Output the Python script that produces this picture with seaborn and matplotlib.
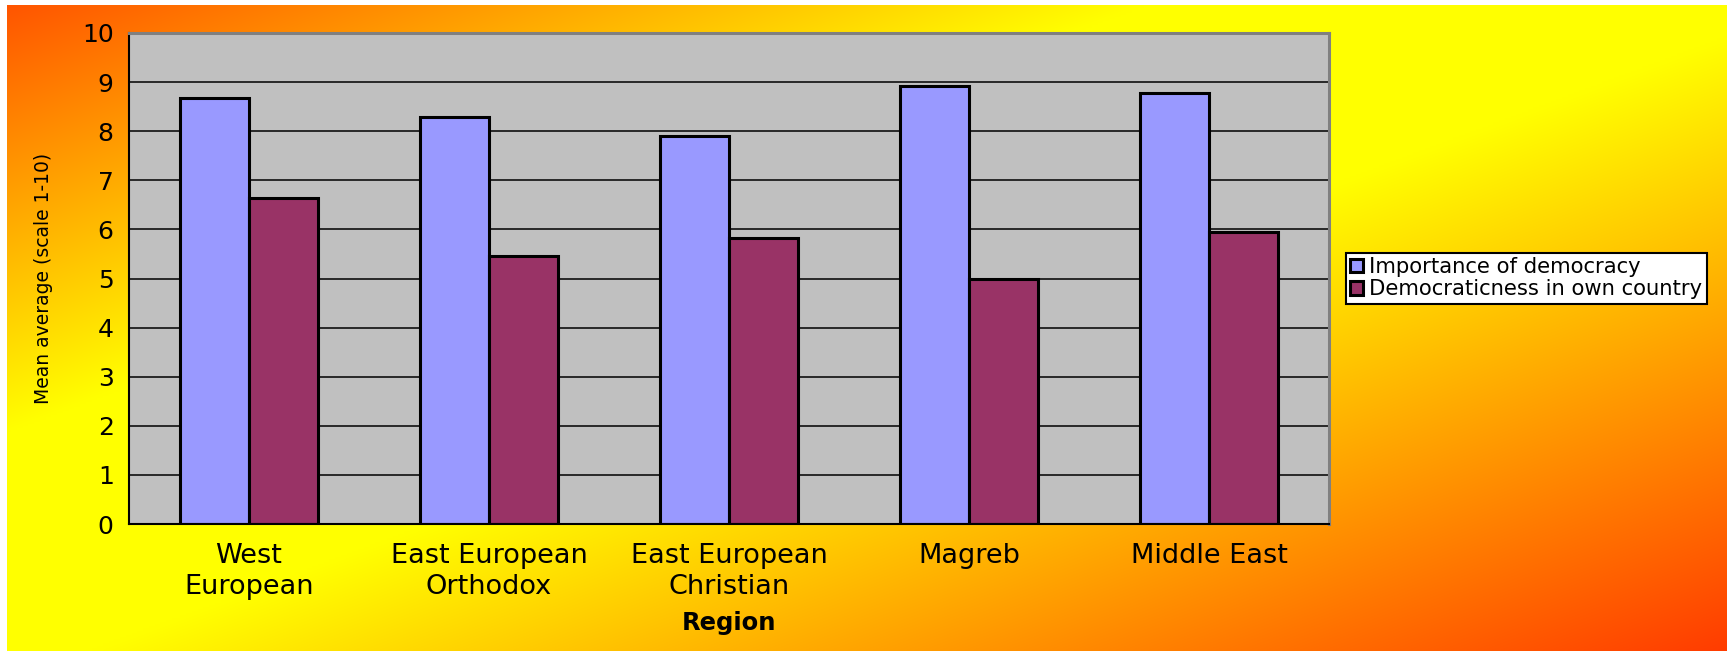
import numpy as np
import pandas as pd
import matplotlib
matplotlib.use("Agg")
import matplotlib.pyplot as plt
import seaborn as sns

# ---- data ----
categories = ["West\nEuropean", "East European\nOrthodox", "East European\nChristian", "Magreb", "Middle East"]
importance = [8.67, 8.28, 7.91, 8.93, 8.77]
democraticness = [6.64, 5.45, 5.83, 4.98, 5.95]
series_names = ["Importance of democracy", "Democraticness in own country"]
yticks = list(range(0, 11))

df = pd.DataFrame({
    "Region": categories * 2,
    "value": importance + democraticness,
    "series": [series_names[0]] * len(categories) + [series_names[1]] * len(categories),
})

sns.set_style("white")
plt.rcParams["font.family"] = ["DejaVu Sans"]
plt.rcParams["text.color"] = "black"
plt.rcParams["axes.labelcolor"] = "black"
plt.rcParams["xtick.color"] = "black"
plt.rcParams["ytick.color"] = "black"

W, H = 1727, 651
fig = plt.figure(figsize=(W / 100, H / 100), dpi=100, facecolor="white")

# gradient background
bg = fig.add_axes([7 / W, 0, 1 - 7 / W, 1 - 5 / H], zorder=-10)
ny, nx = 300, 600
yy, xx = np.mgrid[0:1:ny * 1j, 0:1:nx * 1j]
t = xx + yy
g = np.where(t <= 0.85,
             85 + 170 * np.clip(t / 0.66, 0, 1),
             255 - 195 * np.clip((t - 1.05) / 0.95, 0, 1))
img = np.stack([np.ones_like(t), g / 255, np.zeros_like(t)], -1)
bg.imshow(img, aspect="auto", extent=[0, 1, 0, 1], interpolation="bilinear", origin="upper")
bg.axis("off")

ax = fig.add_axes([129 / W, 1 - 524 / H, 1200 / W, 491 / H])
ax.set_facecolor("#C0C0C0")
ax.set_axisbelow(True)
sns.barplot(data=df, x="Region", y="value", hue="series",
            palette=["#9999FF", "#993366"], width=0.573, gap=0,
            edgecolor="black", linewidth=2.2, saturation=1, ax=ax)

ax.set_ylim(0, 10)
ax.set_yticks(yticks)
ax.set_xlim(-0.5, len(categories) - 0.5)
ax.set_xticks(np.arange(-0.5, len(categories), 1.0))
ax.set_xticklabels([""] * (len(categories) + 1))
ax.set_xticks(range(len(categories)), minor=True)
ax.set_xticklabels(categories, minor=True, fontsize=19.5, linespacing=1.22)
ax.tick_params(axis="x", which="major", direction="out", length=7, width=1.3, color="black")
ax.tick_params(axis="x", which="minor", length=0, pad=14)
ax.tick_params(axis="y", direction="out", length=6, width=1.3, color="black", labelsize=18, pad=5)
ax.yaxis.grid(True, color="black", linewidth=1.1)
ax.xaxis.grid(False)

for s in ["top", "right"]:
    ax.spines[s].set_color("#808080")
    ax.spines[s].set_linewidth(2.2)
for s in ["left", "bottom"]:
    ax.spines[s].set_color("black")
    ax.spines[s].set_linewidth(1.5)

ax.set_ylabel("Mean average (scale 1-10)", fontsize=13.5)
ax.yaxis.set_label_coords(-0.071, 0.5)
ax.yaxis.label.set_va("center")
ax.set_xlabel("Region", fontsize=17.5, fontweight="bold")
ax.xaxis.set_label_coords(0.5, -0.2016)
ax.xaxis.label.set_va("center")

handles, labels = ax.get_legend_handles_labels()
if ax.legend_ is not None:
    ax.legend_.remove()
leg = fig.legend(handles, labels, loc="upper left", bbox_to_anchor=(1346 / W, 1 - 253 / H),
                 fontsize=15.2, frameon=True, fancybox=False, framealpha=1, edgecolor="black",
                 borderpad=0.2, labelspacing=0.1, handlelength=0.6, handleheight=0.6,
                 handletextpad=0.3, borderaxespad=0)
leg.get_frame().set_linewidth(1.5)

fig.savefig("out.png", dpi=100, facecolor="white")
